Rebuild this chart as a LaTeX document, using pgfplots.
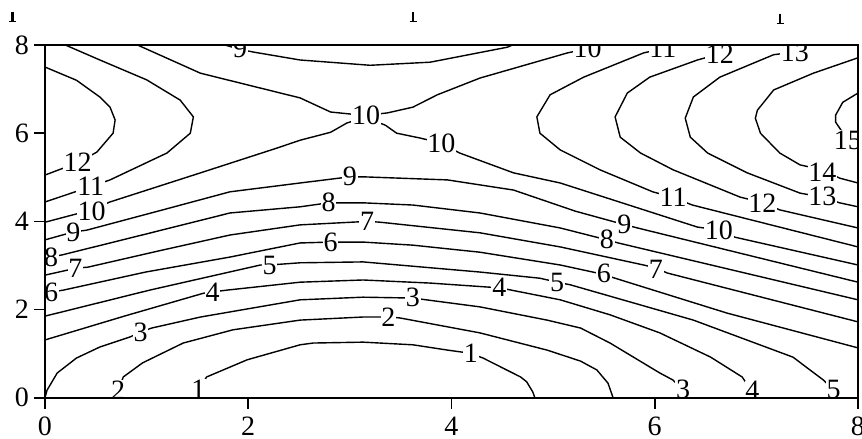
\documentclass[border=0pt]{standalone}
\usepackage{fontspec}
\setmainfont{Liberation Serif}
\usepackage{pgfplots}
\usepackage{pgfplotstable}
\pgfplotsset{compat=1.18}

\pgfplotstableread{
x y l
1.51 0.20 1
4.19 1.01 1
0.72 0.18 2
3.38 1.83 2
0.94 1.49 3
3.62 2.27 3
6.28 0.18 3
1.65 2.39 4
4.47 2.50 4
6.96 0.16 4
2.21 2.99 5
5.04 2.62 5
7.76 0.18 5
0.06 2.39 6
2.81 3.53 6
5.50 2.83 6
0.30 2.94 7
3.17 3.99 7
6.01 2.92 7
0.06 3.19 8
2.79 4.43 8
5.53 3.60 8
0.28 3.75 9
3.00 5.01 9
5.70 3.93 9
1.92 7.92 9
0.46 4.23 10
3.16 6.41 10
3.90 5.78 10
5.34 7.92 10
6.63 3.80 10
0.45 4.80 11
6.08 7.92 11
6.18 4.55 11
0.32 5.33 12
6.64 7.80 12
7.06 4.42 12
7.38 7.84 13
7.65 4.57 13
7.65 5.12 14
7.90 5.84 15
}\labeltable

\begin{document}
\begin{tikzpicture}[x=1pt,y=1pt]
\begin{axis}[
  at={(0pt,0pt)}, anchor=south west,
  scale only axis, width=813pt, height=352.7pt,
  xmin=0, xmax=8, ymin=0, ymax=8,
  xtick={0,2,4,6,8}, ytick={0,2,4,6,8},
  tick align=outside, tick pos=left,
  major tick length=11pt,
  every tick/.style={black, line width=1.6pt},
  axis line style={line width=1.8pt},
  ticklabel style={font=\fontsize{28}{30}\selectfont},
  yticklabel style={inner xsep=5pt},
  xticklabel style={yshift=-5pt},
  /pgf/number format/assume math mode=true,
  axis on top,
  clip marker paths=true,
  every axis plot post/.append style={black, solid, mark=none, line width=1.4pt},
]
% level 1
\addplot coordinates {(1.46,0) (1.51,0.17) (1.59,0.47) (1.99,0.86) (2.51,1.20) (2.64,1.24) (3.13,1.26) (3.62,1.20) (3.96,1.08) (4.18,1.01) (4.31,0.90) (4.68,0.47) (4.74,0.36) (4.80,0.13) (4.82,0)};
% level 2
\addplot coordinates {(0.67,0) (0.72,0.13) (0.77,0.47) (0.96,0.79) (1.36,1.24) (1.85,1.54) (2.51,1.76) (3.13,1.83) (3.38,1.83) (3.49,1.81) (4.28,1.47) (4.94,1.08) (5.27,0.83) (5.43,0.63) (5.54,0.33) (5.59,0)};
% level 3
\addplot coordinates {(0,0) (0.02,0.17) (0.12,0.56) (0.31,0.90) (0.54,1.15) (0.84,1.38) (0.94,1.49) (1.05,1.58) (1.53,1.83) (2.51,2.22) (3.13,2.28) (3.62,2.26) (4.28,2.06) (4.94,1.76) (5.27,1.58) (5.56,1.24) (6.05,0.56) (6.18,0.40) (6.28,0.17) (6.30,0)};
% level 4
\addplot coordinates {(0,1.31) (0.78,1.85) (1.56,2.37) (1.65,2.40) (1.79,2.44) (2.51,2.62) (3.13,2.67) (3.79,2.60) (4.48,2.49) (5.07,2.22) (5.56,1.88) (6.05,1.47) (6.55,0.92) (6.86,0.47) (6.96,0.13) (6.99,0)};
% level 5
\addplot coordinates {(0,1.85) (1.03,2.44) (2.12,3.01) (2.21,3.01) (2.51,3.06) (3.13,3.08) (4.28,2.85) (4.87,2.71) (5.04,2.62) (5.17,2.56) (6.38,1.76) (7.36,0.92) (7.66,0.40) (7.76,0.17) (7.79,0)};
% level 6
\addplot coordinates {(0,2.31) (0.07,2.40) (0.18,2.44) (0.99,2.85) (1.82,3.19) (2.51,3.51) (2.81,3.53) (3.13,3.53) (3.62,3.46) (4.28,3.30) (5.07,3.01) (5.49,2.80) (5.61,2.71) (6.71,1.92) (8,1.13)};
% level 7
\addplot coordinates {(0,2.78) (0.31,2.94) (0.42,2.96) (1.12,3.33) (1.82,3.69) (2.51,3.92) (3.18,4.00) (3.30,3.98) (4.28,3.74) (5.07,3.42) (5.89,3.01) (6.02,2.94) (6.12,2.83) (8,1.72)};
% level 8
\addplot coordinates {(0,3.08) (0.05,3.19) (0.17,3.24) (0.99,3.71) (1.82,4.19) (2.51,4.33) (2.79,4.42) (3.13,4.42) (3.62,4.37) (4.28,4.19) (5.07,3.85) (5.53,3.58) (5.64,3.51) (8,2.22)};
% level 9
\addplot coordinates {(0,3.58) (0.28,3.76) (0.41,3.80) (1.11,4.23) (1.82,4.67) (2.51,4.87) (3.00,5.01) (3.13,5.01) (3.96,4.94) (4.61,4.71) (5.22,4.23) (5.71,3.92) (5.83,3.85) (8,2.62)};
\addplot coordinates {(1.77,8) (1.92,7.90) (2.05,7.84) (2.51,7.66) (3.20,7.54) (3.79,7.61) (4.55,7.95) (4.60,8)};
% level 10
\addplot coordinates {(0.91,8) (1.53,7.36) (2.51,6.80) (2.81,6.48) (3.15,6.40) (3.37,6.46) (3.62,6.59) (3.86,6.87) (4.28,7.25) (5.14,7.82) (5.34,7.92) (5.46,8)};
\addplot coordinates {(0,3.98) (0.46,4.26) (0.64,4.44) (1.53,5.10) (2.28,5.66) (2.51,5.84) (2.81,6.02) (2.97,6.23) (3.15,6.36) (3.35,6.18) (3.46,6.00) (3.69,5.89) (3.89,5.78) (4.08,5.55) (4.61,5.10) (5.07,4.87) (6.42,3.87) (6.64,3.80) (6.79,3.64) (8,3.01)};
% level 11
\addplot coordinates {(0.20,8) (0.54,7.66) (1.00,7.21) (1.33,6.75) (1.46,6.37) (1.43,6.00) (1.20,5.55) (0.64,4.94) (0.44,4.78) (0,4.44)};
\addplot coordinates {(6.08,7.92) (5.89,7.82) (5.30,7.27) (4.97,6.87) (4.84,6.37) (4.87,6.00) (5.07,5.62) (5.46,5.17) (5.98,4.67) (6.17,4.55) (6.37,4.37) (8,3.42)};
% level 12
\addplot coordinates {(0,7.50) (0.31,7.20) (0.54,6.82) (0.64,6.59) (0.69,6.30) (0.67,6.00) (0.51,5.57) (0.31,5.32) (0,5.05)};
\addplot coordinates {(6.64,7.80) (6.42,7.66) (5.95,7.27) (5.73,6.91) (5.61,6.37) (5.66,5.91) (5.86,5.55) (6.18,5.17) (6.84,4.55) (7.07,4.42) (7.23,4.26) (8,3.85)};
% level 13
\addplot coordinates {(7.38,7.84) (7.17,7.78) (6.64,7.27) (6.38,6.82) (6.30,6.34) (6.35,5.91) (6.52,5.55) (6.91,5.10) (7.43,4.64) (7.65,4.55) (7.82,4.42) (8,4.33)};
% level 14
\addplot coordinates {(8,7.71) (7.56,7.36) (7.17,6.98) (7.01,6.52) (6.99,6.34) (7.04,6.00) (7.23,5.55) (7.43,5.28) (7.65,5.17) (7.82,4.98) (8,4.87)};
% level 15
\addplot coordinates {(8,6.91) (7.85,6.70) (7.78,6.41) (7.78,6.25) (7.90,5.84) (8,5.65)};
% labels
\addplot[draw=none, mark=none, nodes near coords, point meta=explicit symbolic,
  every node near coord/.append style={anchor=center, fill=white, inner sep=0.8pt,
    font=\fontsize{28}{30}\selectfont, text=black}]
  table[x=x, y=y, meta=l] {\labeltable};
\end{axis}
\foreach \px/\py in {-32.5/386, 368/386, 735/384}{
  \draw[line width=2.6pt] (\px,\py) -- (\px,\py-10);
  \draw[line width=1.4pt] (\px-3.5,\py-10) -- (\px+3.5,\py-10);
}
\pgfresetboundingbox
\path[use as bounding box] (-45,-41.3) rectangle (817,397.7);
\end{tikzpicture}
\end{document}
